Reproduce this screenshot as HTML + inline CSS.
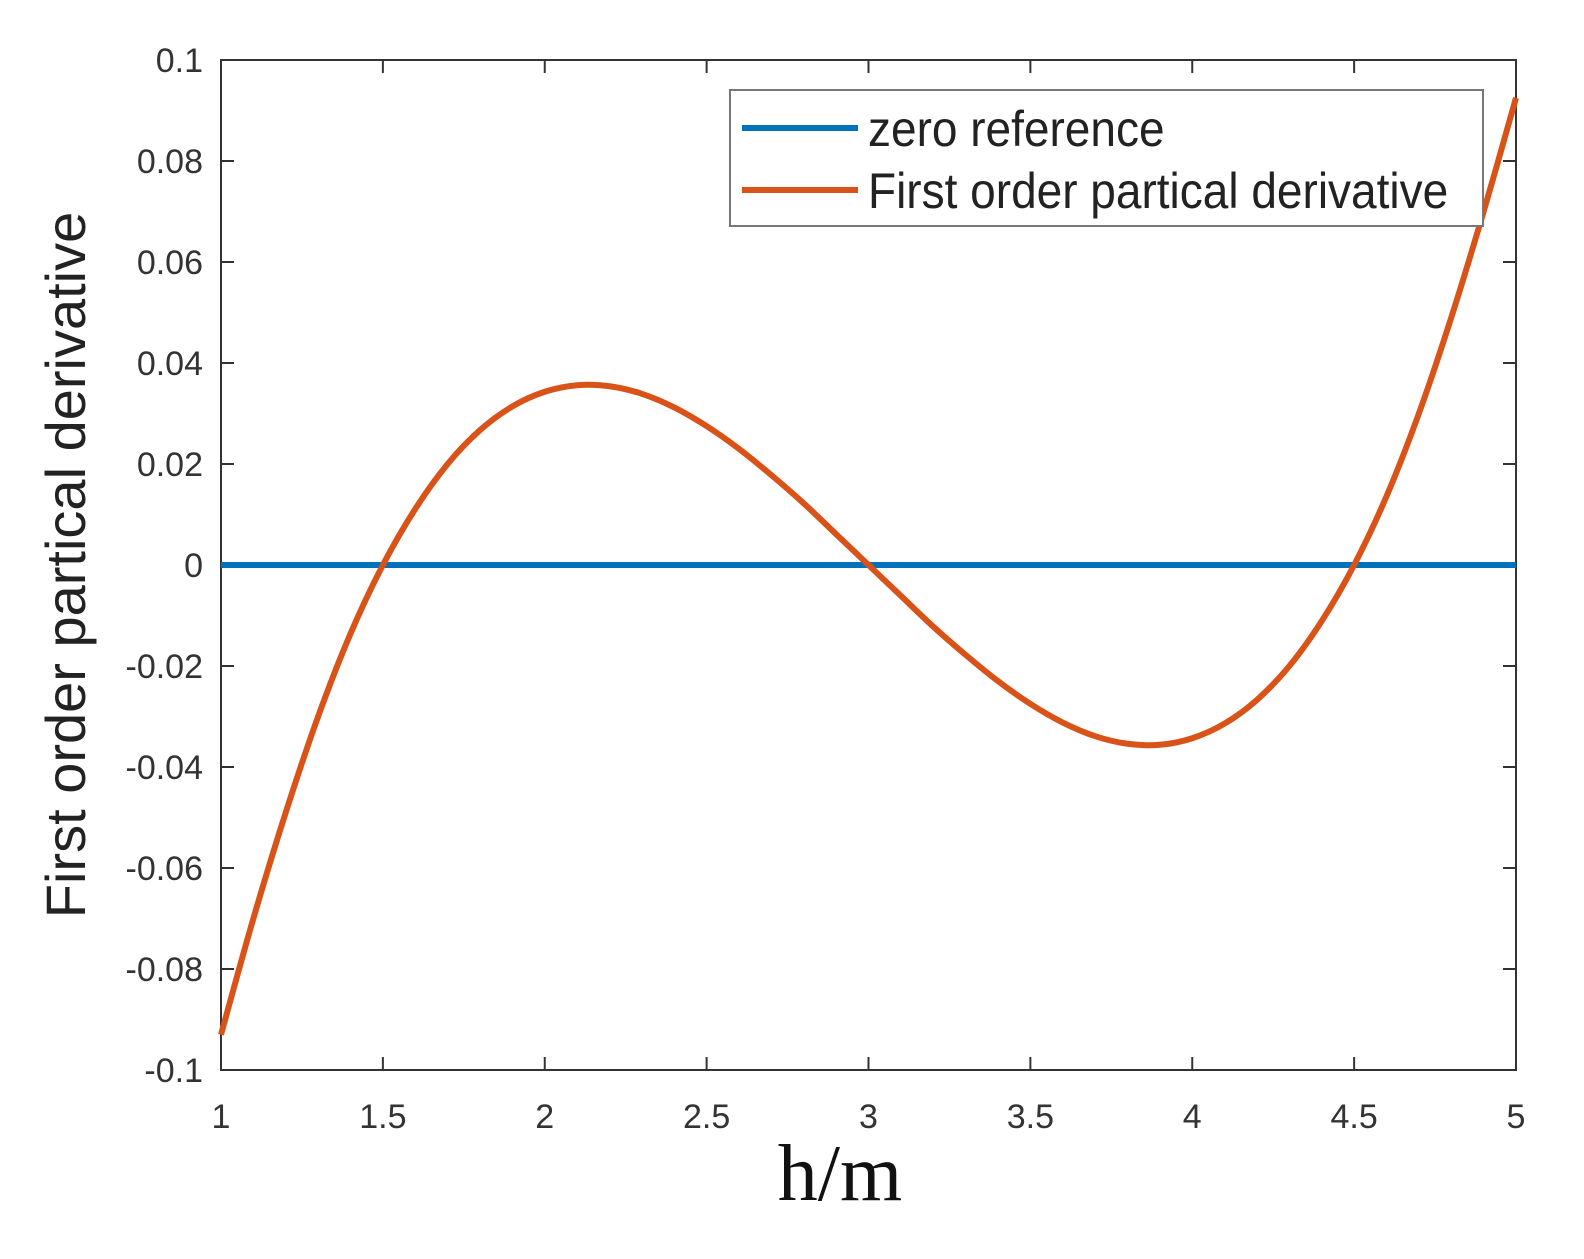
<!DOCTYPE html>
<html><head><meta charset="utf-8"><style>
body{margin:0;background:#fff;width:1584px;height:1254px;overflow:hidden}
svg text{font-family:"Liberation Sans",Arial,sans-serif}
</style></head><body>
<svg id="chart" width="1584" height="1254">
<g id="axes"></g>
<g id="series"></g>
<g id="legend">
<rect x="730" y="90" width="753" height="136" fill="#fff" stroke="#777" stroke-width="2"/>
<line x1="742" y1="128" x2="858" y2="128" stroke="#0072BD" stroke-width="6"/>
<text x="868" y="146" font-size="50" fill="#222" transform="scale(0.92,1)" transform-origin="868 146">zero reference</text>
<line x1="742" y1="190" x2="858" y2="190" stroke="#D95319" stroke-width="6"/>
<text x="868" y="208" font-size="50" fill="#222" transform="scale(0.92,1)" transform-origin="868 208">First order partical derivative</text>
</g>
<text x="70" y="565" font-size="56" fill="#222" text-anchor="middle" transform="rotate(-90 70 565)" dominant-baseline="middle">First order partical derivative</text>
<text x="840" y="1200" font-size="80" fill="#111" text-anchor="middle" style="font-family:'Liberation Serif',serif">h/m</text>
</svg>
<script>
const xTicks=[1,1.5,2,2.5,3,3.5,4,4.5,5];
const xTickLabels=["1","1.5","2","2.5","3","3.5","4","4.5","5"];
const yTicks=[0.1,0.08,0.06,0.04,0.02,0,-0.02,-0.04,-0.06,-0.08,-0.1];
const yTickLabels=["0.1","0.08","0.06","0.04","0.02","0","-0.02","-0.04","-0.06","-0.08","-0.1"];
const hValues=[1.0,1.1,1.2,1.3,1.4,1.5,1.6,1.7,1.8,1.9,2.0,2.1,2.2,2.3,2.4,2.5,2.6,2.7,2.8,2.9,3.0,3.1,3.2,3.3,3.4,3.5,3.6,3.7,3.8,3.9,4.0,4.1,4.2,4.3,4.4,4.5,4.6,4.7,4.8,4.9,5.0];
const derivValues=[-0.0930,-0.0700,-0.0490,-0.0300,-0.0136,0,0.0111,0.0200,0.0267,0.0314,0.0343,0.0356,0.0354,0.0339,0.0312,0.0275,0.0230,0.0178,0.0122,0.0061,0,-0.0061,-0.0122,-0.0178,-0.0230,-0.0275,-0.0312,-0.0339,-0.0354,-0.0356,-0.0343,-0.0314,-0.0267,-0.0200,-0.0111,0,0.0136,0.0300,0.0490,0.0700,0.0925];
const zeroValues=[0,0];
const zeroH=[1,5];

const L=221,R=1516,T=60,B=1070;
const xs=v=>L+(v-1)/4*(R-L);
const ys=v=>T+(0.1-v)/0.2*(B-T);
const NS="http://www.w3.org/2000/svg";
const axes=document.getElementById('axes'),series=document.getElementById('series');
function mk(tag,attrs,parent){const e=document.createElementNS(NS,tag);for(const k in attrs)e.setAttribute(k,attrs[k]);parent.appendChild(e);return e;}
const frame=mk('rect',{x:L,y:T,width:R-L,height:B-T,fill:'none',stroke:'#333','stroke-width':2},axes);


xTicks.forEach((v,i)=>{const x=xs(v);
 mk('line',{x1:x,y1:B,x2:x,y2:B-13,stroke:'#333','stroke-width':2},axes);
 mk('line',{x1:x,y1:T,x2:x,y2:T+13,stroke:'#333','stroke-width':2},axes);
 const t=mk('text',{x:x,y:B+58,'font-size':34,fill:'#333','text-anchor':'middle'},axes);t.textContent=xTickLabels[i];
 
 
});
yTicks.forEach((v,i)=>{const y=ys(v);
 mk('line',{x1:L,y1:y,x2:L+13,y2:y,stroke:'#333','stroke-width':2},axes);
 mk('line',{x1:R,y1:y,x2:R-13,y2:y,stroke:'#333','stroke-width':2},axes);
 const t=mk('text',{x:L-18,y:y+12,'font-size':34,fill:'#333','text-anchor':'end'},axes);t.textContent=yTickLabels[i];
 
 
});
const z=mk('line',{x1:xs(zeroH[0]),y1:ys(zeroValues[0]),x2:xs(zeroH[1]),y2:ys(zeroValues[1]),stroke:'#0072BD','stroke-width':6},series);


const P=hValues.map((h,i)=>[xs(h),ys(derivValues[i])]);
let d='M'+P[0][0]+','+P[0][1];
for(let i=0;i<P.length-1;i++){const p0=P[Math.max(i-1,0)],p1=P[i],p2=P[i+1],p3=P[Math.min(i+2,P.length-1)];
 d+=' C'+(p1[0]+(p2[0]-p0[0])/6)+','+(p1[1]+(p2[1]-p0[1])/6)+' '+(p2[0]-(p3[0]-p1[0])/6)+','+(p2[1]-(p3[1]-p1[1])/6)+' '+p2[0]+','+p2[1];}
const c=mk('path',{d:d,fill:'none',stroke:'#D95319','stroke-width':6},series);


</script>
</body></html>
